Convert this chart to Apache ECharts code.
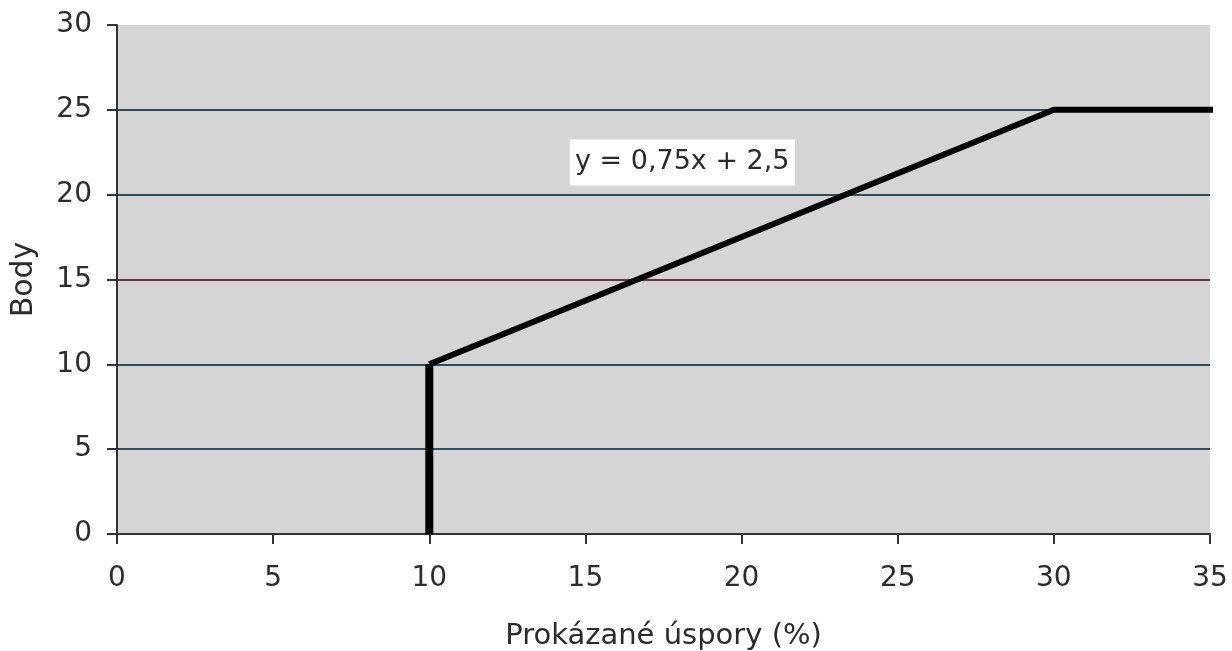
<!DOCTYPE html>
<html>
<head>
<meta charset="utf-8">
<script src="https://cdn.jsdelivr.net/npm/echarts@6/dist/echarts.min.js"></script>
<style>
html,body{margin:0;padding:0;background:#fff;}
#chart{width:1232px;height:651px;}
</style>
</head>
<body>
<div id="chart"></div>
<script>
// bodovaci krivka
var jumpData = [[10, 0], [10, 10]];
var slopeData = [[10, 10], [30, 25], [35.4, 25]];
var xTicks = [0, 5, 10, 15, 20, 25, 30, 35];
var yTicks = [0, 5, 10, 15, 20, 25, 30];
var equationText = 'y = 0,75x + 2,5';
var equationAt = [18.1, 21.9];

var font = '"DejaVu Sans", Verdana, sans-serif';
var textColor = '#2b2b2b';

var option = {
    backgroundColor: '#ffffff',
    animation: false,
    grid: {
        left: 117,
        right: 22,
        top: 25,
        bottom: 117,
        outerBoundsMode: 'none',
        show: true,
        backgroundColor: '#d5d5d5',
        borderWidth: 0
    },
    xAxis: {
        type: 'value',
        min: 0,
        max: 35,
        interval: 5,
        name: 'Prokázané úspory (%)',
        nameLocation: 'middle',
        nameGap: 88,
        nameTextStyle: {color: textColor, fontSize: 29, fontFamily: font},
        axisLine: {show: true, lineStyle: {color: '#333', width: 2}},
        axisTick: {show: true, length: 10, lineStyle: {color: '#333', width: 2}},
        axisLabel: {color: textColor, fontSize: 28, fontFamily: font, margin: 31},
        splitLine: {show: false}
    },
    yAxis: {
        type: 'value',
        min: 0,
        max: 30,
        interval: 5,
        name: 'Body',
        nameLocation: 'middle',
        nameGap: 78,
        nameTextStyle: {color: textColor, fontSize: 30, fontFamily: font},
        axisLine: {show: true, lineStyle: {color: '#333', width: 2}},
        axisTick: {show: true, length: 10, lineStyle: {color: '#333', width: 2}},
        axisLabel: {color: textColor, fontSize: 28, fontFamily: font, margin: 25},
        splitLine: {
            show: true,
            lineStyle: {
                width: 2,
                color: ['#333333', '#2c4f5c', '#2c4f5c', '#6a3446', '#2c4f5c', '#2c4f5c', 'rgba(0,0,0,0)']
            }
        }
    },
    series: [
        {
            type: 'line',
            data: jumpData,
            symbol: 'none',
            clip: false,
            lineStyle: {color: '#000', width: 8}
        },
        {
            type: 'line',
            data: slopeData,
            symbol: 'none',
            clip: false,
            lineStyle: {color: '#000', width: 6},
            markPoint: {
                symbol: 'rect',
                symbolSize: [225, 46],
                itemStyle: {color: '#ffffff'},
                label: {
                    show: true,
                    color: textColor,
                    fontSize: 27,
                    fontFamily: font,
                    formatter: equationText
                },
                data: [{coord: equationAt}]
            }
        }
    ]
};

var chart = echarts.init(document.getElementById('chart'));
chart.setOption(option);
</script>
</body>
</html>
